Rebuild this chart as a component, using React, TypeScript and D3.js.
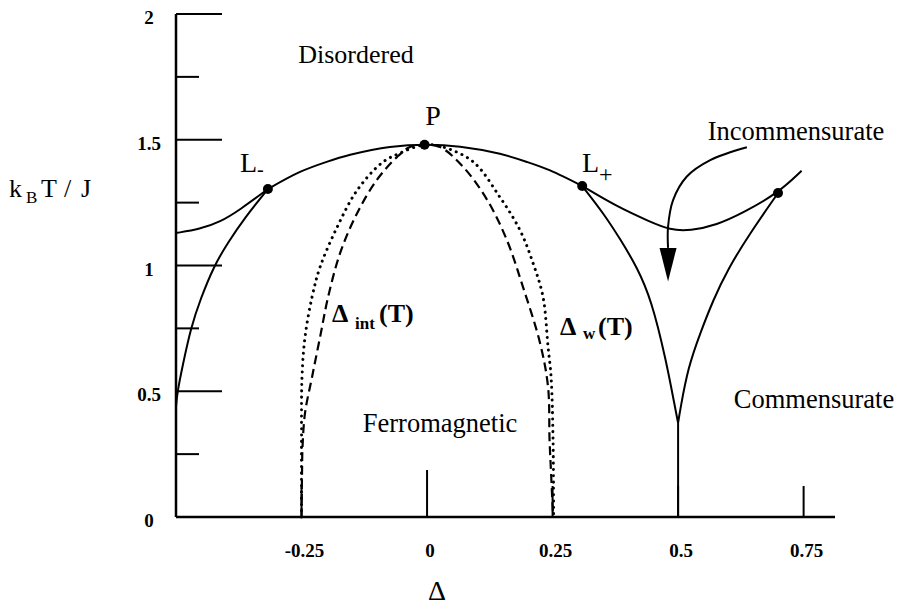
import React from "react";
import * as d3 from "d3";

// Phase diagram of the ANNNI-type model: reduced temperature vs. anisotropy Δ.
type Pt = [number, number];

const X_TICKS = [-0.25, 0, 0.25, 0.5, 0.75];
const X_TICK_LABELS = ["-0.25", "0", "0.25", "0.5", "0.75"];
const Y_LABEL_VALUES = [0, 0.5, 1, 1.5, 2];
const Y_TICK_LABELS = ["0", "0.5", "1", "1.5", "2"];
const Y_MAJOR_TICKS = [0.5, 1, 1.5, 2];
const Y_MINOR_TICKS = [0.25, 0.75, 1.25, 1.75];

// Disordered / ordered boundary between the two Lifshitz points, through P
const domeLine: Pt[] = [
  [-0.317, 1.304], [-0.253, 1.372], [-0.2, 1.412], [-0.153, 1.44], [-0.074, 1.471], [0, 1.48],
  [0.066, 1.472], [0.145, 1.444], [0.2, 1.411], [0.245, 1.378], [0.309, 1.316],
];
// Disordered / incommensurate boundaries
const leftDip: Pt[] = [
  [-0.5, 1.129], [-0.452, 1.145], [-0.412, 1.173], [-0.373, 1.221], [-0.317, 1.304],
];
const rightDip: Pt[] = [
  [0.309, 1.316], [0.378, 1.234], [0.444, 1.174], [0.484, 1.141], [0.524, 1.138],
  [0.577, 1.161], [0.629, 1.209], [0.699, 1.288], [0.746, 1.377],
];
// Ferromagnetic / incommensurate boundaries
const leftFerro: Pt[] = [
  [-0.317, 1.304], [-0.363, 1.19], [-0.397, 1.09], [-0.424, 1.0], [-0.452, 0.863],
  [-0.47, 0.755], [-0.487, 0.6], [-0.497, 0.5], [-0.5, 0.44],
];
const rightFerro: Pt[] = [
  [0.309, 1.316], [0.351, 1.209], [0.386, 1.101], [0.418, 0.994], [0.447, 0.863],
  [0.476, 0.624], [0.493, 0.445], [0.5, 0.374],
];
// Commensurate / incommensurate boundary
const commBranch: Pt[] = [
  [0.699, 1.288], [0.643, 1.128], [0.598, 0.982], [0.57, 0.863], [0.544, 0.731],
  [0.52, 0.596], [0.504, 0.425], [0.5, 0.374],
];
const cuspLine: Pt[] = [[0.5, 0.374], [0.5, 0]];

// Δ_int(T) (dashed) and Δ_w(T) (dotted)
const deltaInt: Pt[] = [
  [-0.25, 0], [-0.249, 0.175], [-0.248, 0.278], [-0.243, 0.414], [-0.229, 0.557],
  [-0.213, 0.716], [-0.197, 0.875], [-0.173, 1.05], [-0.139, 1.209], [-0.1, 1.34],
  [-0.06, 1.431], [-0.034, 1.471], [-0.005, 1.48], [0.026, 1.471], [0.072, 1.392],
  [0.12, 1.26], [0.159, 1.101], [0.191, 0.915], [0.225, 0.692], [0.241, 0.517],
  [0.244, 0.306], [0.247, 0.175], [0.251, 0],
];
const deltaW: Pt[] = [
  [-0.25, 0], [-0.25, 0.3], [-0.249, 0.557], [-0.243, 0.716], [-0.229, 0.875],
  [-0.213, 0.994], [-0.179, 1.153], [-0.139, 1.3], [-0.09, 1.408], [-0.054, 1.447],
  [-0.005, 1.48], [0.032, 1.471], [0.092, 1.412], [0.145, 1.272], [0.185, 1.141],
  [0.211, 1.01], [0.231, 0.875], [0.241, 0.676], [0.247, 0.557], [0.251, 0.3],
  [0.252, 0],
];

// Pointer from the "Incommensurate" label into its region
const arrowPath: Pt[] = [
  [0.637, 1.47], [0.564, 1.419], [0.517, 1.353], [0.49, 1.26], [0.48, 1.154], [0.48, 1.07],
];
const arrowTip: Pt = [0.48, 0.936];

// Special points: L-, P, L+, and the right multicritical point
const specialPoints: Pt[] = [[-0.317, 1.304], [-0.005, 1.48], [0.309, 1.316], [0.699, 1.288]];

const W = 899;
const H = 606;
const FONT = "'Liberation Serif', 'Times New Roman', serif";

export default function App() {
  const x = d3.scaleLinear().domain([-0.5, 0.8125]).range([176, 835]);
  const y = d3.scaleLinear().domain([0, 2]).range([517, 14]);

  const smooth = d3
    .line<Pt>()
    .x((d) => x(d[0]))
    .y((d) => y(d[1]))
    .curve(d3.curveCatmullRom.alpha(0.5));
  const spline = d3
    .line<Pt>()
    .x((d) => x(d[0]))
    .y((d) => y(d[1]))
    .curve(d3.curveBasis);
  const straight = d3
    .line<Pt>()
    .x((d) => x(d[0]))
    .y((d) => y(d[1]));

  const solid = { fill: "none", stroke: "#000", strokeWidth: 2 };

  const tipX = x(arrowTip[0]);
  const tipY = y(arrowTip[1]);
  const baseY = y(arrowPath[arrowPath.length - 1][1]);

  return (
    <svg
      width={W}
      height={H}
      viewBox={`0 0 ${W} ${H}`}
      style={{ position: "absolute", left: 0, top: 0, background: "#fff" }}
      fontFamily={FONT}
    >
      <rect width={W} height={H} fill="#fff" />

      {/* axes */}
      <line x1={x(-0.5)} x2={x(-0.5)} y1={y(2)} y2={y(0)} stroke="#000" strokeWidth={2.5} />
      <line x1={x(-0.5)} x2={x(0.8125)} y1={y(0)} y2={y(0)} stroke="#000" strokeWidth={2.5} />
      {Y_MAJOR_TICKS.map((t) => (
        <line key={"ym" + t} x1={x(-0.5)} x2={x(-0.5) + 46} y1={y(t)} y2={y(t)} stroke="#000" strokeWidth={2} />
      ))}
      {Y_MINOR_TICKS.map((t) => (
        <line key={"yn" + t} x1={x(-0.5)} x2={x(-0.5) + 23} y1={y(t)} y2={y(t)} stroke="#000" strokeWidth={2} />
      ))}
      {X_TICKS.map((t) => (
        <line
          key={"xt" + t}
          x1={x(t)}
          x2={x(t)}
          y1={y(0)}
          y2={y(0) - (t === 0 ? 47 : 31)}
          stroke="#000"
          strokeWidth={2}
        />
      ))}
      {X_TICKS.map((t, i) => (
        <text key={"xl" + t} x={x(t) + 3} y={557} textAnchor="middle" fontSize={19} fontWeight="bold">
          {X_TICK_LABELS[i]}
        </text>
      ))}
      {Y_LABEL_VALUES.map((t, i) => (
        <text key={"yl" + t} x={149} y={y(t) + 10} textAnchor="middle" fontSize={19} fontWeight="bold">
          {Y_TICK_LABELS[i]}
        </text>
      ))}

      {/* phase boundaries */}
      <path d={smooth(domeLine) ?? ""} {...solid} />
      <path d={spline(leftDip) ?? ""} {...solid} />
      <path d={spline(rightDip) ?? ""} {...solid} />
      <path d={spline(leftFerro) ?? ""} {...solid} />
      <path d={spline(rightFerro) ?? ""} {...solid} />
      <path d={spline(commBranch) ?? ""} {...solid} />
      <path d={straight(cuspLine) ?? ""} {...solid} />

      <path d={smooth(deltaInt) ?? ""} fill="none" stroke="#000" strokeWidth={2.2} strokeDasharray="9,5" />
      <path
        d={smooth(deltaW) ?? ""}
        fill="none"
        stroke="#000"
        strokeWidth={3}
        strokeDasharray="0.1,6.2"
        strokeLinecap="round"
      />

      {/* arrow */}
      <path d={smooth(arrowPath) ?? ""} {...solid} />
      <polygon
        points={`${tipX - 8.5},${baseY} ${tipX + 8.5},${baseY} ${tipX},${tipY}`}
        fill="#000"
      />

      {specialPoints.map((p, i) => (
        <circle key={"sp" + i} cx={x(p[0])} cy={y(p[1])} r={5} fill="#000" />
      ))}

      {/* labels */}
      <text x={356} y={63} textAnchor="middle" fontSize={26}>Disordered</text>
      <text x={440} y={432} textAnchor="middle" fontSize={26.5}>Ferromagnetic</text>
      <text x={814} y={408} textAnchor="middle" fontSize={26.5}>Commensurate</text>
      <text x={796} y={140} textAnchor="middle" fontSize={26.5}>Incommensurate</text>

      <text x={433} y={125} textAnchor="middle" fontSize={28}>P</text>
      <text x={240} y={172} fontSize={28}>
        L<tspan fontSize={20} dy={4}>-</tspan>
      </text>
      <text x={582} y={172} fontSize={28}>
        L<tspan fontSize={24} dy={10}>+</tspan>
      </text>

      <text y={322} fontSize={26} fontWeight="bold">
        <tspan x={332}>Δ</tspan>
        <tspan x={355} dy={7} fontSize={17}>int</tspan>
        <tspan x={379} dy={-7}>(T)</tspan>
      </text>
      <text y={335} fontSize={26} fontWeight="bold">
        <tspan x={560}>Δ</tspan>
        <tspan x={583} dy={4} fontSize={17}>w</tspan>
        <tspan x={598} dy={-4}>(T)</tspan>
      </text>

      <text y={197} fontSize={26}>
        <tspan x={9}>k</tspan>
        <tspan x={26} dy={6} fontSize={17}>B</tspan>
        <tspan x={41} dy={-6}>T</tspan>
        <tspan x={64}>/</tspan>
        <tspan x={81}>J</tspan>
      </text>

      <text x={437} y={600} textAnchor="middle" fontSize={28}>Δ</text>
    </svg>
  );
}
